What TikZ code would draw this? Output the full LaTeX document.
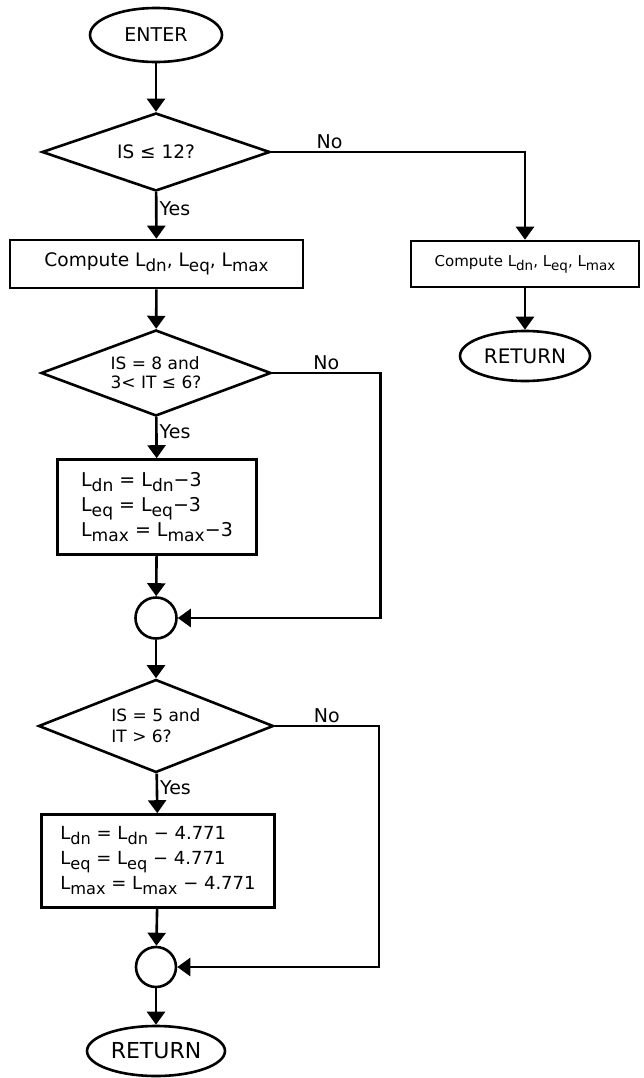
\documentclass[tikz,border=0pt]{standalone}
\usepackage{fontspec}
\usepackage{graphicx}
\setmainfont{DejaVu Sans}
\usetikzlibrary{shapes.geometric,arrows.meta}
\newcommand\lsb[1]{\raisebox{-0.5ex}{\scalebox{0.9}{#1}}}
\begin{document}
\begin{tikzpicture}[x=1pt,y=-1pt,
  every node/.style={font=\fontsize{18}{23}\selectfont},
  flow/.style={line width=2.6pt,-{Triangle[width=18pt,length=13pt]}},
  term/.style={ellipse,draw,line width=2.6pt,inner sep=0pt},
  proc/.style={rectangle,draw,line width=2.6pt,inner sep=0pt},
  decide/.style={diamond,draw,line width=2.6pt,inner sep=0pt,shape aspect=2.6},
  joint/.style={circle,draw,line width=2.6pt,minimum size=41pt,inner sep=0pt},
  lab/.style={inner sep=2pt,font=\fontsize{19}{23}\selectfont},
  calc3/.style={align=left,font=\fontsize{19}{25}\selectfont}]
\useasboundingbox (0,0) rectangle (643,1078);
\node[term,minimum width=132,minimum height=54,font=\fontsize{19}{23}\selectfont] (enter) at (156,35) {ENTER};
\node[decide,minimum width=228,minimum height=78,font=\fontsize{18.5}{23}\selectfont] (d1) at (156,152) {IS ≤ 12?};
\node[proc,minimum width=293,minimum height=48,font=\fontsize{18.6}{22}\selectfont] (b1) at (156.5,264) {Compute L\lsb{dn}, L\lsb{eq}, L\lsb{max}};
\node[proc,minimum width=228,minimum height=46,font=\fontsize{15}{18}\selectfont] (b2) at (525,264) {Compute L\lsb{dn}, L\lsb{eq}, L\lsb{max}};
\node[term,minimum width=130,minimum height=50,font=\fontsize{20}{23}\selectfont] (r1) at (525,356) {RETURN};
\node[decide,minimum width=230,minimum height=86,align=left,font=\fontsize{17}{19}\selectfont] (d2) at (156,373) {IS = 8 and\\3< IT ≤ 6?};
\node[proc,minimum width=199,minimum height=95,calc3,font=\fontsize{19}{25}\selectfont] (b3) at (157,507) {L\lsb{dn} = L\lsb{dn}−3\\L\lsb{eq} = L\lsb{eq}−3\\L\lsb{max} = L\lsb{max}−3};
\node[joint] (c1) at (156,618) {};
\node[decide,minimum width=235,minimum height=93,align=left,font=\fontsize{17}{21}\selectfont] (d3) at (156,726) {IS = 5 and\\IT > 6?};
\node[proc,minimum width=233,minimum height=93,calc3,font=\fontsize{18}{25}\selectfont] (b4) at (158,861) {L\lsb{dn} = L\lsb{dn} − 4.771\\L\lsb{eq} = L\lsb{eq} − 4.771\\L\lsb{max} = L\lsb{max} − 4.771};
\node[joint,minimum size=40pt] (c2) at (156,967) {};
\node[term,minimum width=138,minimum height=50,font=\fontsize{22}{25}\selectfont] (r2) at (156,1051) {RETURN};
\path (d2.east) ++(108,0) coordinate (k2);
\path (d3.east) ++(104,0) coordinate (k3);
\draw[flow] (enter) -- (d1);
\draw[flow] (d1) -- node[lab,anchor=west,pos=0.35]{Yes} (b1);
\draw[flow] (d1.east) -| node[lab,above,pos=0.115]{No} (b2.north);
\draw[flow] (b2) -- (r1);
\draw[flow] (b1) -- (d2);
\draw[flow] (d2) -- node[lab,anchor=west,pos=0.35]{Yes} (b3);
\draw[flow] (d2.east) -- node[lab,above]{No} (k2) |- (c1.east);
\draw[flow] (b3) -- (c1);
\draw[flow] (c1) -- (d3);
\draw[flow] (d3) -- node[lab,anchor=west,pos=0.35]{Yes} (b4);
\draw[flow] (d3.east) -- node[lab,above]{No} (k3) |- (c2.east);
\draw[flow] (b4) -- (c2);
\draw[flow] (c2) -- (r2);
\end{tikzpicture}
\end{document}
